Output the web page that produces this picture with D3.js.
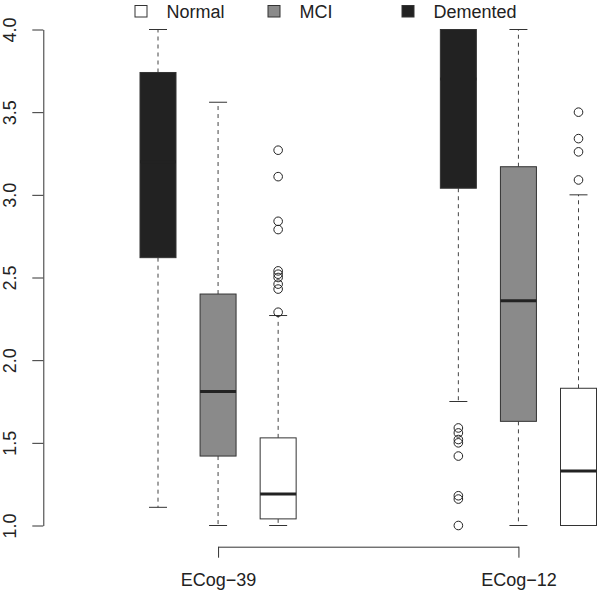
<!DOCTYPE html>
<html>
<head>
<meta charset="utf-8">
<script src="https://cdn.jsdelivr.net/npm/d3@7"></script>
<style>
  body{margin:0;background:#fff;}
  svg{font-family:"Liberation Sans",Arial,sans-serif;}
  .axis path,.axis line{stroke:#333;stroke-width:1;}
  .axis text{fill:#222;font-size:18px;}
</style>
</head>
<body>
<script>
/*
grouped box plot, two questionnaires x three diagnosis groups
summary stats (low whisker, q1, median, q3, high whisker)
*/
var groups = ["ECog\u221239","ECog\u221212"];
var statuses = ["Demented","MCI","Normal"];
var legendOrder = ["Normal","MCI","Demented"];
var fills = {Normal:"#ffffff",MCI:"#8a8a8a",Demented:"#222222"};

// one entry per box: ECog-39 (Dem, MCI, Nor), ECog-12 (Dem, MCI, Nor)
var whiskerLo = [1.11, 1.00, 1.00, 1.75, 1.00, 1.00];
var q1        = [2.62, 1.42, 1.04, 3.04, 1.63, 1.00];
var median    = [3.20, 1.81, 1.19, 3.70, 2.36, 1.33];
var q3        = [3.74, 2.40, 1.53, 4.00, 3.17, 1.83];
var whiskerHi = [4.00, 3.56, 2.27, 4.00, 4.00, 3.00];
var outliers  = [
  [],
  [],
  [3.27,3.11,2.84,2.79,2.54,2.52,2.50,2.46,2.43,2.29],
  [1.59,1.56,1.52,1.50,1.42,1.18,1.16,1.00],
  [],
  [3.50,3.34,3.26,3.09]
];
var yTicks = [1.0,1.5,2.0,2.5,3.0,3.5,4.0];

var W = 600, H = 594;
var svg = d3.select('body').append('svg').attr('width',W).attr('height',H);

// box slot: group g, status s -> 1,2,3 and 6,7,8
function slot(i){ var g = Math.floor(i/3), s = i%3; return g*5 + s + 1; }

var xScale = d3.scaleLinear().domain([1,8]).range([158,578.5]);
var yScale = d3.scaleLinear().domain([1,4]).range([525.5,29.5]);
var boxW = 36;

// y axis
var yAxis = d3.axisLeft(yScale).tickValues(yTicks)
  .tickFormat(d3.format('.1f')).tickSize(11).tickSizeOuter(0);
var yG = svg.append('g').attr('class','axis')
  .attr('transform','translate(43.3,0)').call(yAxis);
yG.selectAll('text').attr('transform','rotate(-90)')
  .attr('x',0).attr('y',-27.5).attr('dy',0)
  .attr('text-anchor','middle');

// bottom bracket axis
var gScale = d3.scalePoint().domain(groups).range([xScale(2),xScale(7)]);
var xAxis = d3.axisBottom(gScale).tickSize(11).tickSizeOuter(0);
var xG = svg.append('g').attr('class','axis')
  .attr('transform','translate(0,546.7)').call(xAxis);
xG.selectAll('text').attr('y',39.5).attr('dy',0);

// boxes
var boxes = d3.range(6).map(function(i){
  return {i:i, status:statuses[i%3], lo:whiskerLo[i], q1:q1[i], med:median[i],
          q3:q3[i], hi:whiskerHi[i], out:outliers[i]};
});
var bg = svg.selectAll('g.box').data(boxes).enter().append('g')
  .attr('class','box')
  .attr('transform',function(d){return 'translate('+xScale(slot(d.i))+',0)';});

// whiskers
bg.append('line').attr('x1',0).attr('x2',0)
  .attr('y1',function(d){return yScale(d.q3);})
  .attr('y2',function(d){return yScale(d.hi);})
  .style('stroke','#444').style('stroke-dasharray','4,4');
bg.append('line').attr('x1',0).attr('x2',0)
  .attr('y1',function(d){return yScale(d.q1);})
  .attr('y2',function(d){return yScale(d.lo);})
  .style('stroke','#444').style('stroke-dasharray','4,4');
// staples
bg.filter(function(d){return d.hi>d.q3;}).append('line')
  .attr('x1',-boxW/4).attr('x2',boxW/4)
  .attr('y1',function(d){return yScale(d.hi);})
  .attr('y2',function(d){return yScale(d.hi);})
  .style('stroke','#333');
bg.filter(function(d){return d.lo<d.q1;}).append('line')
  .attr('x1',-boxW/4).attr('x2',boxW/4)
  .attr('y1',function(d){return yScale(d.lo);})
  .attr('y2',function(d){return yScale(d.lo);})
  .style('stroke','#333');
// quartile box
bg.append('rect').attr('x',-boxW/2).attr('width',boxW)
  .attr('y',function(d){return yScale(d.q3);})
  .attr('height',function(d){return yScale(d.q1)-yScale(d.q3);})
  .attr('fill',function(d){return fills[d.status];})
  .style('stroke','#333').style('stroke-width',1);
// median
bg.append('line').attr('x1',-boxW/2).attr('x2',boxW/2)
  .attr('y1',function(d){return yScale(d.med);})
  .attr('y2',function(d){return yScale(d.med);})
  .style('stroke','#222').style('stroke-width',3);
// outliers
bg.selectAll('circle').data(function(d){return d.out;}).enter()
  .append('circle').attr('cx',0)
  .attr('cy',function(v){return yScale(v);}).attr('r',4.3)
  .attr('fill','none').style('stroke','#222').style('stroke-width',1);

// legend
var legX = [135,268,402];
var lg = svg.selectAll('g.leg').data(legendOrder).enter().append('g')
  .attr('class','leg')
  .attr('transform',function(d,i){return 'translate('+legX[i]+',0)';});
lg.append('rect').attr('x',0).attr('y',5.5).attr('width',12).attr('height',11.5)
  .attr('fill',function(d){return fills[d];}).style('stroke','#333');
lg.append('text').attr('x',31.5).attr('y',17.5)
  .style('font-size','18px').style('fill','#222')
  .text(function(d){return d;});
</script>
</body>
</html>
